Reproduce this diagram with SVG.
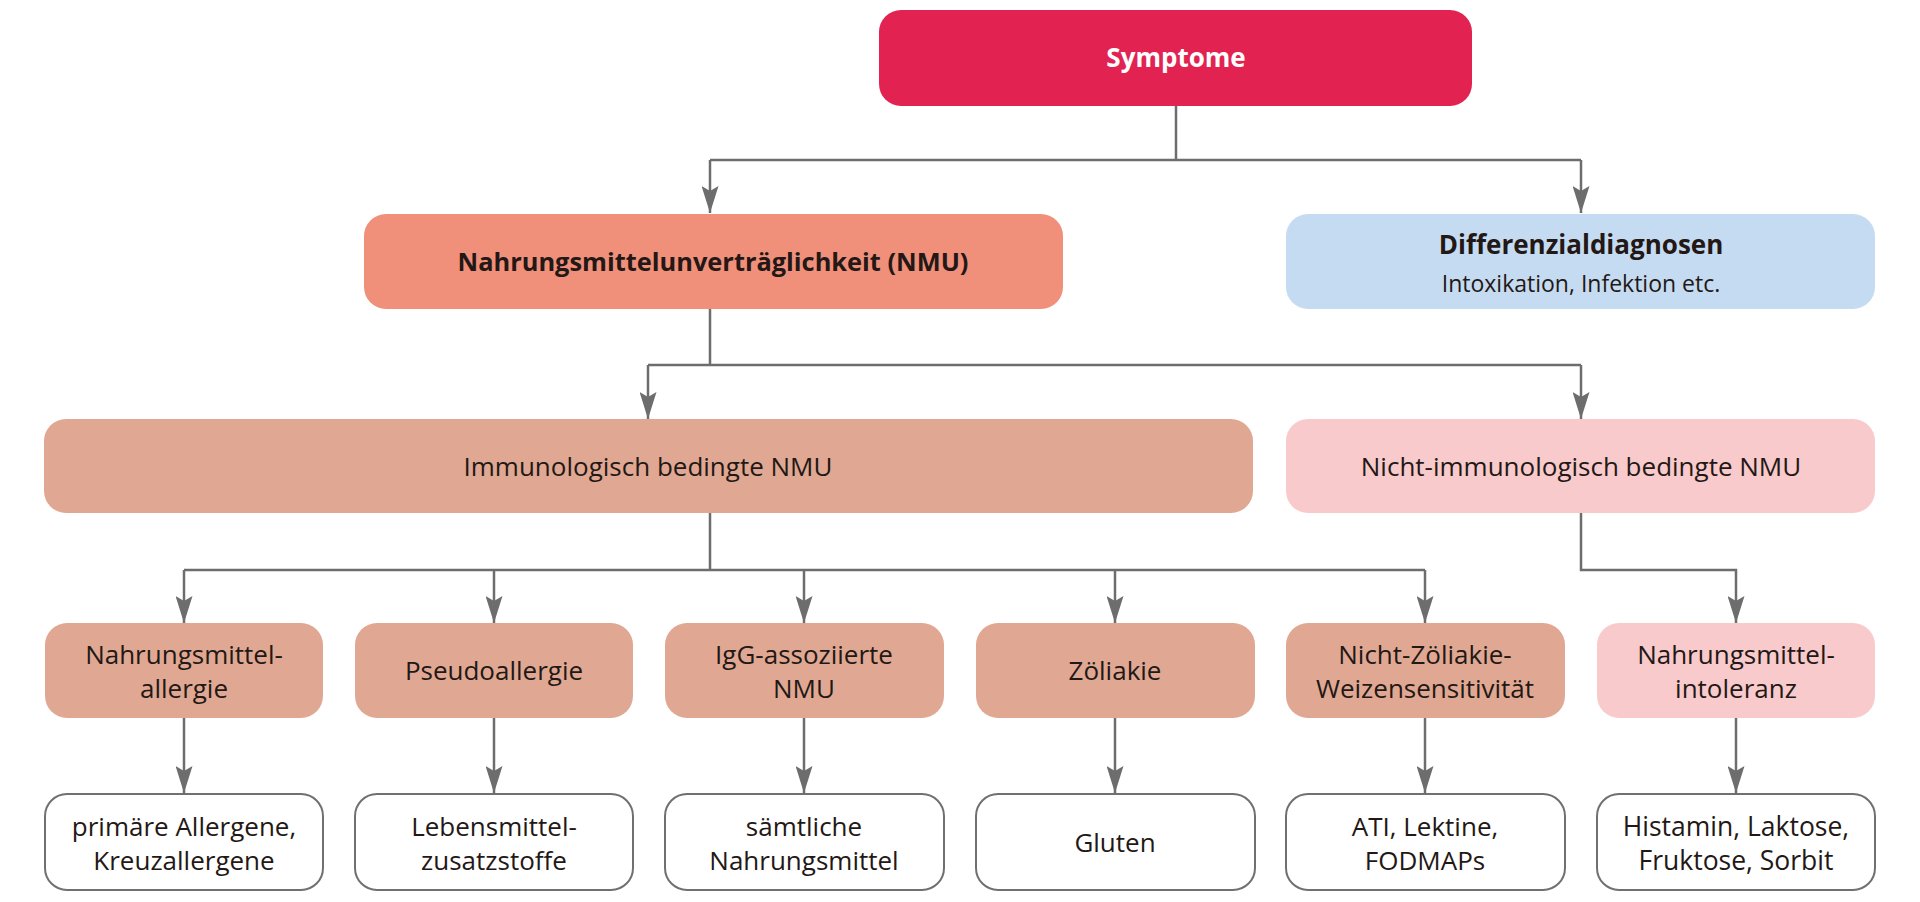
<svg xmlns="http://www.w3.org/2000/svg" width="1920" height="902" viewBox="0 0 1920 902">
<defs>
<style>
.t{font-family:"Open Sans","Noto Sans","DejaVu Sans",sans-serif;font-size:26px;fill:#231815;text-anchor:middle}
.b{font-weight:700}
.w{fill:#ffffff}
.c{fill:none;stroke:#6d6d6d;stroke-width:2.5}
.l4{fill:#ffffff;stroke:#707070;stroke-width:2}
.im{fill:#E0A892}
.pk{fill:#F8CACB}
</style>
<marker id="ah" viewBox="0 0 27 17" refX="27" refY="8.5" markerWidth="27" markerHeight="17" markerUnits="userSpaceOnUse" orient="auto">
<path d="M0,0 L27,8.5 L0,17 L5,8.5 z" fill="#6d6d6d"/>
</marker>
</defs>
<rect width="1920" height="902" fill="#ffffff"/>
<g id="connectors">
<path class="c" d="M1176,106 V160 M710,160 H1581"/>
<path class="c" d="M710,160 V213" marker-end="url(#ah)"/>
<path class="c" d="M1581,160 V213" marker-end="url(#ah)"/>
<path class="c" d="M710,309 V365 M648,365 H1581"/>
<path class="c" d="M648,365 V419" marker-end="url(#ah)"/>
<path class="c" d="M1581,365 V419" marker-end="url(#ah)"/>
<path class="c" d="M710,513 V570 M184,570 H1425"/>
<path class="c" d="M184,570 V623" marker-end="url(#ah)"/>
<path class="c" d="M494,570 V623" marker-end="url(#ah)"/>
<path class="c" d="M804,570 V623" marker-end="url(#ah)"/>
<path class="c" d="M1115,570 V623" marker-end="url(#ah)"/>
<path class="c" d="M1425,570 V623" marker-end="url(#ah)"/>
<path class="c" d="M1581,513 V570 H1736 V623" marker-end="url(#ah)"/>
<path class="c" d="M184,718 V793" marker-end="url(#ah)"/>
<path class="c" d="M494,718 V793" marker-end="url(#ah)"/>
<path class="c" d="M804,718 V793" marker-end="url(#ah)"/>
<path class="c" d="M1115,718 V793" marker-end="url(#ah)"/>
<path class="c" d="M1425,718 V793" marker-end="url(#ah)"/>
<path class="c" d="M1736,718 V793" marker-end="url(#ah)"/>
</g>
<g id="symptome">
<rect x="879" y="10" width="593" height="96" rx="22" fill="#E22352"/>
<text class="t b w" x="1176" y="67">Symptome</text>
</g>
<g id="nmu">
<rect x="364" y="214" width="699" height="95" rx="22" fill="#F0907A"/>
<text class="t b" x="713" y="271" style="font-size:25.4px">Nahrungsmittelunverträglichkeit (NMU)</text>
</g>
<g id="diff">
<rect x="1286" y="214" width="589" height="95" rx="22" fill="#C5DBF1"/>
<text class="t b" x="1581" y="254">Differenzialdiagnosen</text>
<text class="t" x="1581" y="292" style="font-size:23px">Intoxikation, Infektion etc.</text>
</g>
<g id="immun">
<rect class="im" x="44" y="419" width="1209" height="94" rx="22"/>
<text class="t" x="648" y="476">Immunologisch bedingte NMU</text>
</g>
<g id="nichtimmun">
<rect class="pk" x="1286" y="419" width="589" height="94" rx="22"/>
<text class="t" x="1581" y="476">Nicht-immunologisch bedingte NMU</text>
</g>
<g id="allergie">
<rect class="im" x="45" y="623" width="278" height="95" rx="22"/>
<text class="t" x="184" y="664">Nahrungsmittel-</text>
<text class="t" x="184" y="698">allergie</text>
</g>
<g id="pseudo">
<rect class="im" x="355" y="623" width="278" height="95" rx="22"/>
<text class="t" x="494" y="680">Pseudoallergie</text>
</g>
<g id="igg">
<rect class="im" x="665" y="623" width="279" height="95" rx="22"/>
<text class="t" x="804" y="664">IgG-assoziierte</text>
<text class="t" x="804" y="698">NMU</text>
</g>
<g id="zoeliakie">
<rect class="im" x="976" y="623" width="279" height="95" rx="22"/>
<text class="t" x="1115" y="680">Zöliakie</text>
</g>
<g id="ncws">
<rect class="im" x="1286" y="623" width="279" height="95" rx="22"/>
<text class="t" x="1425" y="664">Nicht-Zöliakie-</text>
<text class="t" x="1425" y="698">Weizensensitivität</text>
</g>
<g id="intoleranz">
<rect class="pk" x="1597" y="623" width="278" height="95" rx="22"/>
<text class="t" x="1736" y="664">Nahrungsmittel-</text>
<text class="t" x="1736" y="698">intoleranz</text>
</g>
<g id="allergene">
<rect class="l4" x="45" y="794" width="278" height="96" rx="22"/>
<text class="t" x="184" y="836">primäre Allergene,</text>
<text class="t" x="184" y="870">Kreuzallergene</text>
</g>
<g id="zusatz">
<rect class="l4" x="355" y="794" width="278" height="96" rx="22"/>
<text class="t" x="494" y="836">Lebensmittel-</text>
<text class="t" x="494" y="870">zusatzstoffe</text>
</g>
<g id="saemtliche">
<rect class="l4" x="665" y="794" width="279" height="96" rx="22"/>
<text class="t" x="804" y="836">sämtliche</text>
<text class="t" x="804" y="870">Nahrungsmittel</text>
</g>
<g id="gluten">
<rect class="l4" x="976" y="794" width="279" height="96" rx="22"/>
<text class="t" x="1115" y="852">Gluten</text>
</g>
<g id="ati">
<rect class="l4" x="1286" y="794" width="279" height="96" rx="22"/>
<text class="t" x="1425" y="836">ATI, Lektine,</text>
<text class="t" x="1425" y="870">FODMAPs</text>
</g>
<g id="histamin">
<rect class="l4" x="1597" y="794" width="278" height="96" rx="22"/>
<text class="t" x="1736" y="836" style="font-size:26.5px">Histamin, Laktose,</text>
<text class="t" x="1736" y="870" style="font-size:26.5px">Fruktose, Sorbit</text>
</g>
</svg>
